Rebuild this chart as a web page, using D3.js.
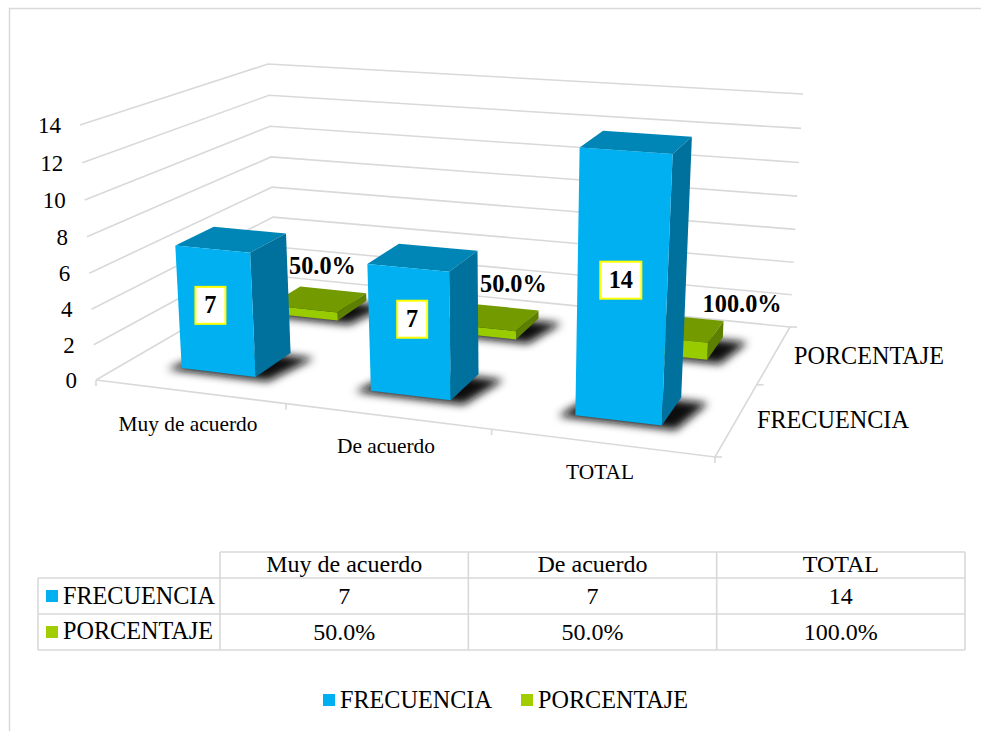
<!DOCTYPE html>
<html><head><meta charset="utf-8">
<script src="https://cdn.jsdelivr.net/npm/d3@7"></script>
<style>html,body{margin:0;padding:0;background:#fff}svg{display:block}text{font-family:"Liberation Serif","Times New Roman",serif;fill:#000}</style>
</head><body><div id="c"></div>
<script>
const categories = ["Muy de acuerdo","De acuerdo","TOTAL"];
const seriesNames = ["FRECUENCIA","PORCENTAJE"];
const frecuencia = [7,7,14];
const porcentaje = [0.5,0.5,1];
const yTicks = [0,2,4,6,8,10,12,14];
const colors = {
  FRECUENCIA:{front:"#00B0F0",top:"#0086B6",side:"#00709C"},
  PORCENTAJE:{front:"#99CC00",top:"#739B00",side:"#5E8000"}
};
const W=981,H=731;
const svg=d3.select("#c").append("svg").attr("width",W).attr("height",H);
const defs=svg.append("defs");
defs.append("filter").attr("id","blur").attr("x","-40%").attr("y","-80%").attr("width","180%").attr("height","260%")
  .append("feGaussianBlur").attr("stdDeviation",4.5);

// frame
svg.append("path").attr("d","M9.5,731V8.5H981").attr("fill","none").attr("stroke","#D9D9D9").attr("stroke-width",1.5);

// homography from unit square to a quad
function homography(q){
  const [[x0,y0],[x1,y1],[x2,y2],[x3,y3]]=q; // (0,0),(1,0),(1,1),(0,1)
  const dx1=x1-x2,dx2=x3-x2,sx=x0-x1+x2-x3,dy1=y1-y2,dy2=y3-y2,sy=y0-y1+y2-y3;
  const d=dx1*dy2-dx2*dy1, g=(sx*dy2-dx2*sy)/d, h=(dx1*sy-sx*dy1)/d;
  const a=x1-x0+g*x1,b=x3-x0+h*x3,e=y1-y0+g*y1,f=y3-y0+h*y3;
  return (s,t)=>{const k=g*s+h*t+1;return [(a*s+b*t+x0)/k,(e*s+f*t+y0)/k];};
}
const floorQ=homography([[96,380],[715,457],[790,327],[275,276]]);
const ceilQ =homography([[80,125],[732,174],[803,94],[268,64]]);
const uS=d3.scaleBand().domain(categories).range([0,1]);
const vS=d3.scaleBand().domain(seriesNames).range([0,1]);
const wL=d3.scaleLinear().domain([0,14]).range([0,1]);
const persp=0.04;
const wS=v=>{const k=wL(v);return k/(1+persp*(1-k));};
function P(s,t,val){
  const a=floorQ(s,t),b=ceilQ(s,t),k=wS(val);
  return [a[0]+(b[0]-a[0])*k,a[1]+(b[1]-a[1])*k];
}
const line=d3.line();
const grid="#D9D9D9";
const gG=svg.append("g").attr("fill","none").attr("stroke",grid).attr("stroke-width",1.6);
yTicks.forEach(v=>{
  gG.append("path").attr("d",line([P(0,0,v),P(0,1,v),P(1,1,v)]));
});
gG.append("path").attr("d",line([P(0,0,0),P(1,0,0),P(1,1,0)]));
// ticks
const tickS=[0,1,2,3].map(i=>i/3);
tickS.forEach(s=>{const p=P(s,0,0);gG.append("path").attr("d",line([p,[p[0],p[1]+6]]));});
[0,0.5,1].forEach(t=>{const p=P(1,t,0);gG.append("path").attr("d",line([p,[p[0]+7,p[1]]]));});

// y labels
const fmtPct=d3.format(".1f");
yTicks.forEach(v=>{
  const p=P(0,0,v);
  svg.append("text").attr("x",p[0]-19).attr("y",p[1]+8).attr("text-anchor","end").attr("font-size",23).text(v);
});
// cat labels
const catOff=[[188,431],[386,453],[600,479]];
categories.forEach((c,i)=>{
  svg.append("text").attr("x",catOff[i][0]).attr("y",catOff[i][1]).attr("text-anchor","middle").attr("font-size",21.4).text(c);
});
// series labels
[["FRECUENCIA",757,428],["PORCENTAJE",794,364]].forEach(d=>{
  svg.append("text").attr("x",d[1]).attr("y",d[2]).attr("font-size",24.2).text(d[0]);
});

const barU=0.40, barV=0.40;
function bar(name,cat,val){
  const s0=uS(cat)+uS.bandwidth()*(0.5-barU/2), s1=s0+uS.bandwidth()*barU;
  const t0=vS(name)+vS.bandwidth()*(0.5-barV/2), t1=t0+vS.bandwidth()*barV;
  return {s0,s1,t0,t1,val};
}
const order=["PORCENTAJE","FRECUENCIA"];
const dataBy={FRECUENCIA:frecuencia,PORCENTAJE:porcentaje};
order.forEach(name=>{
  const g=svg.append("g");
  categories.forEach((c,i)=>{
    const b=bar(name,c,dataBy[name][i]);
    const col=colors[name];
    const ds=0.03;
    g.append("path").attr("filter","url(#blur)").attr("fill","#111")
      .attr("d",line([P(b.s0-ds,b.t0,0),P(b.s1+ds*.6,b.t0,0),P(b.s1+ds*1.3,b.t1,0),P(b.s0,b.t1,0)].map(p=>[p[0]+2,p[1]+3]))+"Z");
    g.append("path").attr("fill",col.top).attr("d",line([P(b.s0,b.t0,b.val),P(b.s1,b.t0,b.val),P(b.s1,b.t1,b.val),P(b.s0,b.t1,b.val)])+"Z");
    g.append("path").attr("fill",col.side).attr("d",line([P(b.s1,b.t0,0),P(b.s1,b.t1,0),P(b.s1,b.t1,b.val),P(b.s1,b.t0,b.val)])+"Z");
    g.append("path").attr("fill",col.front).attr("d",line([P(b.s0,b.t0,0),P(b.s1,b.t0,0),P(b.s1,b.t0,b.val),P(b.s0,b.t0,b.val)])+"Z");
  });
});
// data labels
const boxNudge=[[-2,-2],[6,-9],[2,-4]];
const pctNudge=[[4,-1],[22,-1],[65,8]];
categories.forEach((c,i)=>{
  const b=bar("FRECUENCIA",c,frecuencia[i]);
  const p=P((b.s0+b.s1)/2,b.t0,frecuencia[i]/2);
  const w=frecuencia[i]>=10?41:30,h=37;
  const cx=p[0]-3+boxNudge[i][0],cy=p[1]-4+boxNudge[i][1];
  svg.append("rect").attr("x",cx-w/2).attr("y",cy-h/2).attr("width",w).attr("height",h).attr("fill","#fff").attr("stroke","#FFFF00").attr("stroke-width",2);
  svg.append("text").attr("x",cx).attr("y",cy+8).attr("text-anchor","middle").attr("font-size",24.3).attr("font-weight","bold").text(frecuencia[i]);
  const g=bar("PORCENTAJE",c,porcentaje[i]);
  const q=P((g.s0+g.s1)/2,(g.t0+g.t1)/2,porcentaje[i]);
  svg.append("text").attr("x",q[0]+pctNudge[i][0]).attr("y",q[1]-24+pctNudge[i][1]).attr("text-anchor","middle").attr("font-size",24.3).attr("font-weight","bold").text(fmtPct(porcentaje[i]*100)+"%");
});
// table
const tx=d3.scalePoint().domain(d3.range(4)).range([220,965]);
const ty=d3.scaleOrdinal().domain([0,1,2,3]).range([552,578,614,650]);
const tG=svg.append("g").attr("stroke","#D9D9D9").attr("stroke-width",1.6);
[0,1,2,3].forEach(i=>{
  tG.append("line").attr("x1",i===0?220:38).attr("x2",965).attr("y1",ty(i)).attr("y2",ty(i));
  tG.append("line").attr("x1",tx(i)).attr("x2",tx(i)).attr("y1",552).attr("y2",650);
});
tG.append("line").attr("x1",38).attr("x2",38).attr("y1",578).attr("y2",650);
categories.forEach((c,i)=>{
  const cx=(tx(i)+tx(i+1))/2;
  svg.append("text").attr("x",cx).attr("y",572).attr("text-anchor","middle").attr("font-size",24).text(c);
  svg.append("text").attr("x",cx).attr("y",604).attr("text-anchor","middle").attr("font-size",24).text(frecuencia[i]);
  svg.append("text").attr("x",cx).attr("y",640).attr("text-anchor","middle").attr("font-size",24).text(fmtPct(porcentaje[i]*100)+"%");
});
seriesNames.forEach((n,i)=>{
  const y=[604,639][i];
  svg.append("rect").attr("x",46).attr("y",[590,626][i]).attr("width",12).attr("height",12).attr("fill",i?"#A2CD00":"#00B0F0");
  svg.append("text").attr("x",63).attr("y",y).attr("font-size",24.2).text(n);
});
// legend
[["FRECUENCIA",323],["PORCENTAJE",521]].forEach((d,i)=>{
  svg.append("rect").attr("x",d[1]).attr("y",694).attr("width",12).attr("height",12).attr("fill",i?"#A2CD00":"#00B0F0");
  svg.append("text").attr("x",d[1]+17).attr("y",708).attr("font-size",24.2).text(d[0]);
});
</script></body></html>
